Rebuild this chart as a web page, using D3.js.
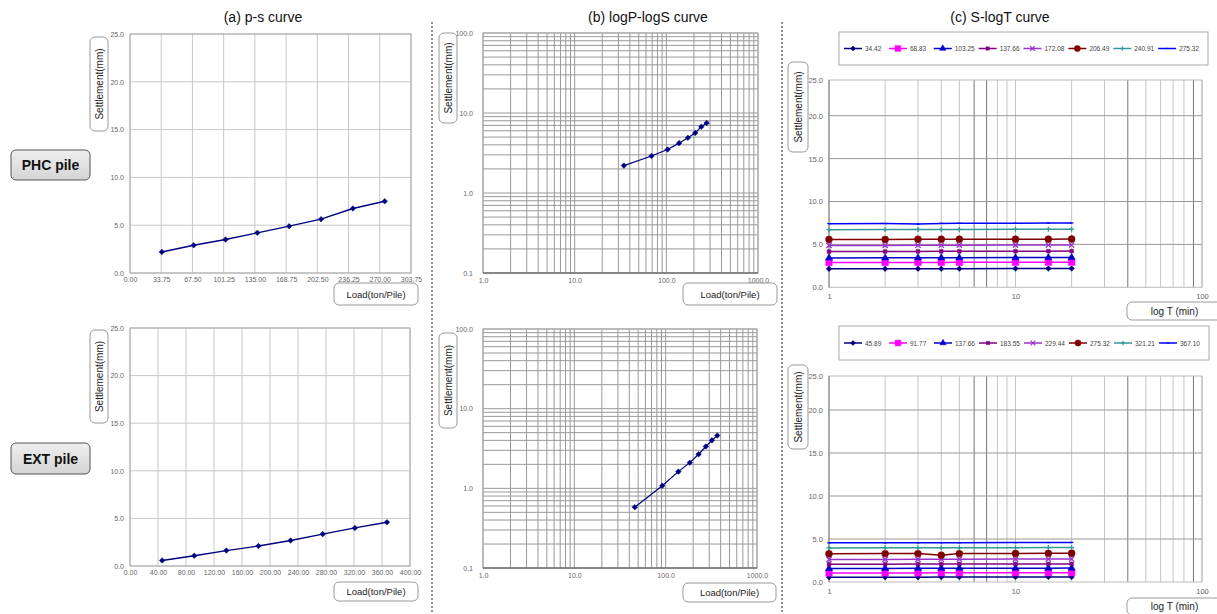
<!DOCTYPE html>
<html>
<head>
<meta charset="utf-8">
<script src="https://cdn.jsdelivr.net/npm/d3@7"></script>
<style>
  body { margin: 0; background: #fff; }
  text { font-family: "Liberation Sans", Arial, sans-serif; }
</style>
</head>
<body>
<svg id="chart" width="1217" height="614"></svg>
<script>
// ---- data ----
const titles = ["(a) p-s curve", "(b) logP-logS curve", "(c) S-logT curve"];
const pileNames = ["PHC pile", "EXT pile"];

// p-s curve
const phcLoad = [34.42, 68.83, 103.25, 137.66, 172.08, 206.49, 240.91, 275.32];
const phcSettle = [2.2, 2.9, 3.5, 4.2, 4.9, 5.63, 6.75, 7.5];
const extLoad = [45.89, 91.77, 137.66, 183.55, 229.44, 275.32, 321.21, 367.10];
const extSettle = [0.58, 1.08, 1.62, 2.1, 2.68, 3.35, 4.0, 4.6];

const phcLoadTicks = [0, 33.75, 67.5, 101.25, 135, 168.75, 202.5, 236.25, 270, 303.75];
const extLoadTicks = [0, 40, 80, 120, 160, 200, 240, 280, 320, 360, 400];
const settleTicks = [0, 5, 10, 15, 20, 25];

// logP-logS
const logLoadTicks = [1, 10, 100, 1000];
const logSettleTicks = [0.1, 1, 10, 100];

// S-logT
const timeMin = [1, 2, 3, 4, 5, 10, 15, 20];
const timeTicks = [1, 10, 100];
const phcLegend = ["34.42", "68.83", "103.25", "137.66", "172.08", "206.49", "240.91", "275.32"];
const extLegend = ["45.89", "91.77", "137.66", "183.55", "229.44", "275.32", "321.21", "367.10"];
const phcTime = [
  [2.15, 2.16, 2.16, 2.17, 2.17, 2.18, 2.18, 2.19],
  [2.88, 2.89, 2.90, 2.90, 2.91, 2.91, 2.92, 2.92],
  [3.42, 3.43, 3.44, 3.45, 3.45, 3.46, 3.47, 3.48],
  [4.16, 4.17, 4.18, 4.19, 4.19, 4.20, 4.21, 4.22],
  [4.88, 4.88, 4.90, 4.90, 4.91, 4.92, 4.93, 4.93],
  [5.58, 5.58, 5.59, 5.60, 5.60, 5.60, 5.61, 5.62],
  [6.72, 6.73, 6.74, 6.74, 6.75, 6.76, 6.76, 6.77],
  [7.42, 7.43, 7.38, 7.45, 7.46, 7.47, 7.48, 7.50]
];
const extTime = [
  [0.55, 0.56, 0.56, 0.57, 0.57, 0.58, 0.58, 0.58],
  [1.05, 1.06, 1.06, 1.07, 1.07, 1.08, 1.08, 1.08],
  [1.57, 1.58, 1.59, 1.60, 1.60, 1.61, 1.61, 1.62],
  [2.06, 2.07, 2.08, 2.08, 2.09, 2.09, 2.10, 2.10],
  [2.62, 2.63, 2.64, 2.65, 2.65, 2.66, 2.67, 2.68],
  [3.28, 3.30, 3.30, 3.12, 3.30, 3.32, 3.33, 3.35],
  [3.96, 3.97, 3.97, 3.98, 3.98, 3.99, 4.00, 4.00],
  [4.55, 4.56, 4.56, 4.57, 4.57, 4.58, 4.59, 4.60]
];

// ---- styles ----
const navy = "#000080";
// excel-like markers
const symDiamond = { draw(ctx, size) { const r = Math.sqrt(size) * 0.62; ctx.moveTo(0, -r); ctx.lineTo(r, 0); ctx.lineTo(0, r); ctx.lineTo(-r, 0); ctx.closePath(); } };
const symX = { draw(ctx, size) { const r = Math.sqrt(size) / 2; ctx.moveTo(-r, -r); ctx.lineTo(r, r); ctx.moveTo(r, -r); ctx.lineTo(-r, r); } };
const symPlus = { draw(ctx, size) { const r = Math.sqrt(size) / 2; ctx.moveTo(-r, 0); ctx.lineTo(r, 0); ctx.moveTo(0, -r); ctx.lineTo(0, r); } };
const symDash = { draw(ctx, size) { const r = Math.sqrt(size) / 2; ctx.moveTo(-r, 0); ctx.lineTo(r, 0); } };
const seriesStyle = [
  { color: "#000080", type: symDiamond, size: 20, fill: true },
  { color: "#ff00ff", type: d3.symbolSquare, size: 42, fill: true },
  { color: "#0000cc", type: d3.symbolTriangle, size: 22, fill: true },
  { color: "#800080", type: d3.symbolSquare, size: 14, fill: true },
  { color: "#9933cc", type: symX, size: 28, fill: false },
  { color: "#800000", type: d3.symbolCircle, size: 38, fill: true },
  { color: "#339999", type: symPlus, size: 25, fill: false },
  { color: "#0000ff", type: symDash, size: 12, fill: false }
];

// ---- layout ----
const rows = [
  {
    pile: { x: 11, y: 150, w: 79, h: 30 },
    ps: { l: 130, r: 411, t: 34, b: 273 },
    log: { l: 483, r: 758, t: 33, b: 273 },
    time: { l: 829, r: 1202, t: 80, b: 287.3, y20: 115.7 },
    psY: { x: 90, y: 37, w: 18, h: 94 }, psX: { x: 334, y: 283, w: 84, h: 22 },
    logY: { x: 439, y: 33, w: 18, h: 90 }, logX: { x: 683, y: 283, w: 94, h: 22 },
    timeY: { x: 788, y: 62, w: 20, h: 90 }, timeX: { x: 1127, y: 302, w: 95, h: 18 },
    legend: { x: 839, y: 32, w: 369, h: 33 }
  },
  {
    pile: { x: 11, y: 443, w: 79, h: 31 },
    ps: { l: 130, r: 410, t: 328, b: 566 },
    log: { l: 483, r: 757, t: 329, b: 568 },
    time: { l: 829, r: 1202, t: 376, b: 582, y20: 410 },
    psY: { x: 90, y: 330, w: 18, h: 93 }, psX: { x: 334, y: 582, w: 84, h: 19 },
    logY: { x: 439, y: 333, w: 18, h: 95 }, logX: { x: 683, y: 583, w: 93, h: 19 },
    timeY: { x: 788, y: 365, w: 20, h: 84 }, timeX: { x: 1127, y: 598, w: 95, h: 17 },
    legend: { x: 839, y: 326, w: 370, h: 34 }
  }
];

const svg = d3.select("#chart");
svg.append("rect").attr("width", 1217).attr("height", 614).attr("fill", "#fff");

const defs = svg.append("defs");
const grad = defs.append("linearGradient").attr("id", "pileGrad").attr("x1", 0).attr("y1", 0).attr("x2", 0).attr("y2", 1);
grad.append("stop").attr("offset", "0%").attr("stop-color", "#efefef");
grad.append("stop").attr("offset", "100%").attr("stop-color", "#d4d4d4");

// column titles
const titleX = [263, 648, 1000];
svg.selectAll(".title").data(titles).join("text")
  .attr("x", (d, i) => titleX[i]).attr("y", 22)
  .attr("text-anchor", "middle").attr("font-size", 14).attr("fill", "#111")
  .text(d => d);

// dotted separators
[432, 782].forEach(x => {
  svg.append("line").attr("x1", x).attr("x2", x).attr("y1", 22).attr("y2", 612)
    .attr("stroke", "#555").attr("stroke-width", 1.3).attr("stroke-dasharray", "2,2");
});

function boxLabel(b, text, rotate, size) {
  const g = svg.append("g");
  g.append("rect").attr("x", b.x).attr("y", b.y).attr("width", b.w).attr("height", b.h)
    .attr("rx", 5).attr("fill", "#fff").attr("stroke", "#999");
  const cx = b.x + b.w / 2, cy = b.y + b.h / 2;
  g.append("text").attr("x", 0).attr("y", 0)
    .attr("transform", `translate(${cx},${cy}) rotate(${rotate ? -90 : 0})`)
    .attr("text-anchor", "middle").attr("dominant-baseline", "central")
    .attr("font-size", size).attr("fill", "#222").text(text);
}

function styleAxis(g, size, color) {
  g.select(".domain").remove();
  g.selectAll("text").attr("font-size", size).attr("fill", color)
    .attr("font-family", '"Liberation Sans", Arial, sans-serif');
}

function frame(g, p, color) {
  g.append("rect").attr("x", p.l).attr("y", p.t).attr("width", p.r - p.l).attr("height", p.b - p.t)
    .attr("fill", "none").attr("stroke", color);
}

function logGrid(domain) {
  const vals = [];
  for (let e = Math.log10(domain[0]); e < Math.log10(domain[1]); e++) {
    for (let k = 1; k < 10; k++) vals.push(k * Math.pow(10, e));
  }
  vals.push(domain[1]);
  return vals;
}

function drawSeries(g, xs, ys, x, y, st, width) {
  const pts = xs.map((d, i) => [d, ys[i]]);
  g.append("path").datum(pts)
    .attr("fill", "none").attr("stroke", st.color).attr("stroke-width", width)
    .attr("d", d3.line().x(d => x(d[0])).y(d => y(d[1])));
  g.selectAll(null).data(pts).join("path")
    .attr("transform", d => `translate(${x(d[0])},${y(d[1])})`)
    .attr("d", d3.symbol().type(st.type).size(st.size))
    .attr("fill", st.fill ? st.color : "none")
    .attr("stroke", st.color).attr("stroke-width", st.fill ? 0.5 : 1.3);
}

// (a) p-s curve
function psPanel(p, ticks, loads, settles) {
  const g = svg.append("g");
  const x = d3.scaleLinear().domain([ticks[0], ticks[ticks.length - 1]]).range([p.l, p.r]);
  const y = d3.scaleLinear().domain([0, 25]).range([p.b, p.t]);
  g.append("rect").attr("x", p.l).attr("y", p.t).attr("width", p.r - p.l).attr("height", p.b - p.t).attr("fill", "#fff");
  g.selectAll(null).data(ticks).join("line")
    .attr("x1", d => x(d)).attr("x2", d => x(d)).attr("y1", p.t).attr("y2", p.b).attr("stroke", "#c8c8c8");
  g.selectAll(null).data(settleTicks).join("line")
    .attr("x1", p.l).attr("x2", p.r).attr("y1", d => y(d)).attr("y2", d => y(d)).attr("stroke", "#c8c8c8");
  frame(g, p, "#aaa");
  g.append("g").attr("transform", `translate(0,${p.b})`)
    .call(d3.axisBottom(x).tickValues(ticks).tickFormat(d3.format(".2f")).tickSize(0).tickPadding(4.5))
    .call(a => styleAxis(a, 7, "#666"));
  g.append("g").attr("transform", `translate(${p.l},0)`)
    .call(d3.axisLeft(y).tickValues(settleTicks).tickFormat(d3.format(".1f")).tickSize(0).tickPadding(6))
    .call(a => styleAxis(a, 7, "#666"));
  drawSeries(g, loads, settles, x, y, { color: navy, type: symDiamond, size: 20, fill: true }, 1.4);
}

// (b) logP-logS curve
function logPanel(p, loads, settles) {
  const g = svg.append("g");
  const x = d3.scaleLog().domain([1, 1000]).range([p.l, p.r]);
  const y = d3.scaleLog().domain([0.1, 100]).range([p.b, p.t]);
  g.append("rect").attr("x", p.l).attr("y", p.t).attr("width", p.r - p.l).attr("height", p.b - p.t).attr("fill", "#fff");
  g.selectAll(null).data(logGrid(x.domain())).join("line")
    .attr("x1", d => x(d)).attr("x2", d => x(d)).attr("y1", p.t).attr("y2", p.b).attr("stroke", "#999");
  g.selectAll(null).data(logGrid(y.domain())).join("line")
    .attr("x1", p.l).attr("x2", p.r).attr("y1", d => y(d)).attr("y2", d => y(d)).attr("stroke", "#999");
  frame(g, p, "#aaa");
  g.append("line").attr("x1", p.l).attr("x2", p.r).attr("y1", p.b).attr("y2", p.b).attr("stroke", "#555");
  g.append("g").attr("transform", `translate(0,${p.b})`)
    .call(d3.axisBottom(x).tickValues(logLoadTicks).tickFormat(d3.format(".1f")).tickSize(0).tickPadding(5))
    .call(a => styleAxis(a, 7, "#666"));
  g.append("g").attr("transform", `translate(${p.l},0)`)
    .call(d3.axisLeft(y).tickValues(logSettleTicks).tickFormat(d3.format(".1f")).tickSize(0).tickPadding(10))
    .call(a => styleAxis(a, 7, "#666"));
  drawSeries(g, loads, settles, x, y, { color: navy, type: symDiamond, size: 20, fill: true }, 1.2);
}

// (c) S-logT curve
function timePanel(p, series, labels, lg) {
  const g = svg.append("g");
  const x = d3.scaleLog().domain([1, 100]).range([p.l, p.r]);
  const y = d3.scaleLinear().domain([0, 20, 25]).range([p.b, p.y20, p.t]);
  g.append("rect").attr("x", p.l).attr("y", p.t).attr("width", p.r - p.l).attr("height", p.b - p.t).attr("fill", "#fff");
  g.selectAll(null).data(logGrid(x.domain())).join("line")
    .attr("x1", d => x(d)).attr("x2", d => x(d)).attr("y1", p.t).attr("y2", p.b)
    .attr("stroke", d => (d === 6 || d === 7 || d === 40 || d === 90) ? "#777" : "#c4c4c4");
  g.selectAll(null).data(settleTicks.slice(1, 5)).join("line")
    .attr("x1", p.l).attr("x2", p.r).attr("y1", d => y(d)).attr("y2", d => y(d)).attr("stroke", "#999");
  frame(g, p, "#bbb");
  g.append("line").attr("x1", p.l).attr("x2", p.l).attr("y1", p.t).attr("y2", p.b).attr("stroke", "#888");
  g.append("g").attr("transform", `translate(0,${p.b})`)
    .call(d3.axisBottom(x).tickValues(timeTicks).tickFormat(d3.format("d")).tickSize(0).tickPadding(6.5))
    .call(a => styleAxis(a, 7.5, "#666"));
  g.append("g").attr("transform", `translate(${p.l},0)`)
    .call(d3.axisLeft(y).tickValues(settleTicks).tickFormat(d3.format(".1f")).tickSize(0).tickPadding(6))
    .call(a => styleAxis(a, 7.5, "#666"));
  series.forEach((s, i) => drawSeries(g, timeMin, s, x, y, seriesStyle[i], 1.5));

  // legend
  const lgG = svg.append("g");
  lgG.append("rect").attr("x", lg.x).attr("y", lg.y).attr("width", lg.w).attr("height", lg.h)
    .attr("fill", "#fff").attr("stroke", "#aaa");
  const step = (lg.w - 10) / labels.length;
  const cy = lg.y + lg.h / 2;
  labels.forEach((lab, i) => {
    const st = seriesStyle[i];
    const x0 = lg.x + 5 + i * step;
    lgG.append("line").attr("x1", x0).attr("x2", x0 + 18).attr("y1", cy).attr("y2", cy)
      .attr("stroke", st.color).attr("stroke-width", 1.5);
    lgG.append("path").attr("transform", `translate(${x0 + 9},${cy})`)
      .attr("d", d3.symbol().type(st.type).size(st.size * 0.8))
      .attr("fill", st.fill ? st.color : "none").attr("stroke", st.color).attr("stroke-width", st.fill ? 0.5 : 1.2);
    lgG.append("text").attr("x", x0 + 21).attr("y", cy).attr("dominant-baseline", "central")
      .attr("font-size", 6.5).attr("fill", "#444").text(lab);
  });
}

const rowData = [
  { ticks: phcLoadTicks, loads: phcLoad, settles: phcSettle, time: phcTime, legend: phcLegend },
  { ticks: extLoadTicks, loads: extLoad, settles: extSettle, time: extTime, legend: extLegend }
];

rows.forEach((r, i) => {
  const d = rowData[i];
  psPanel(r.ps, d.ticks, d.loads, d.settles);
  logPanel(r.log, d.loads, d.settles);
  timePanel(r.time, d.time, d.legend, r.legend);

  boxLabel(r.psY, "Settlement(mm)", true, 10);
  boxLabel(r.psX, "Load(ton/Pile)", false, 9.5);
  boxLabel(r.logY, "Settlement(mm)", true, 10);
  boxLabel(r.logX, "Load(ton/Pile)", false, 9.5);
  boxLabel(r.timeY, "Settlement(mm)", true, 10);
  boxLabel(r.timeX, "log T (min)", false, 10);

  // pile name badge
  const pb = r.pile;
  svg.append("rect").attr("x", pb.x).attr("y", pb.y).attr("width", pb.w).attr("height", pb.h)
    .attr("rx", 5).attr("fill", "url(#pileGrad)").attr("stroke", "#555");
  svg.append("text").attr("x", pb.x + pb.w / 2).attr("y", pb.y + pb.h / 2)
    .attr("text-anchor", "middle").attr("dominant-baseline", "central")
    .attr("font-size", 14).attr("font-weight", "bold").attr("fill", "#111").text(pileNames[i]);
});
</script>
</body>
</html>
